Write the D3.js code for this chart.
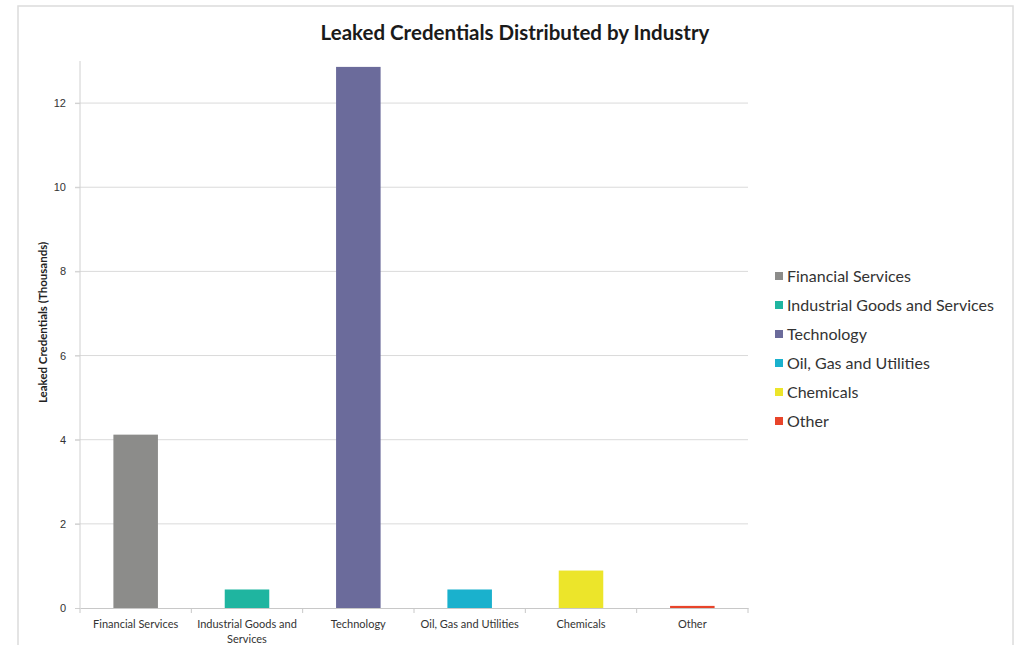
<!DOCTYPE html>
<html>
<head>
<meta charset="utf-8">
<script src="https://cdn.jsdelivr.net/npm/d3@7"></script>
<style>
  body { margin: 0; background: #fff; }
  svg { display: block; font-family: Lato, "Open Sans", sans-serif; }
</style>
</head>
<body>
<svg id="chart" width="1023" height="645"></svg>
<script>
const categories = ["Financial Services", "Industrial Goods and Services", "Technology", "Oil, Gas and Utilities", "Chemicals", "Other"];
const values = [4.12, 0.44, 12.86, 0.44, 0.89, 0.05];
const colors = ["#8c8c8a", "#1fb5a0", "#6b6b9b", "#1ab1cd", "#ece52a", "#e8442a"];
const yTicks = [0, 2, 4, 6, 8, 10, 12];

const svg = d3.select("#chart");

// outer frame
svg.append("rect")
  .attr("x", 18).attr("y", 6)
  .attr("width", 995).attr("height", 660)
  .attr("fill", "none").attr("stroke", "#dcdcdc").attr("stroke-width", 1.5);

const plotLeft = 80, plotRight = 748, plotTop = 61, plotBottom = 608;

const x = d3.scaleBand().domain(categories).range([plotLeft, plotRight]).paddingInner(0.6).paddingOuter(0.3);
const xb = d3.scaleBand().domain(categories).range([plotLeft, plotRight]);
const y = d3.scaleLinear().domain([0, 13]).range([plotBottom, plotTop]);

// grid
svg.append("g")
  .selectAll("line")
  .data(yTicks.filter(d => d > 0))
  .join("line")
  .attr("x1", plotLeft - 5).attr("x2", plotRight)
  .attr("y1", d => y(d)).attr("y2", d => y(d))
  .attr("stroke", "#dadada");

// y axis
const yAxis = svg.append("g")
  .attr("transform", `translate(${plotLeft},0)`)
  .call(d3.axisLeft(y).tickValues(yTicks).tickSize(5).tickPadding(9));
yAxis.select(".domain").attr("stroke", "#d0d0d0").attr("d", `M0,${plotTop}V${plotBottom}`);
yAxis.selectAll(".tick line").attr("stroke", "#d0d0d0");
yAxis.selectAll("text").attr("fill", "#333").style("font-size", "11px");

// bars
svg.append("g")
  .selectAll("rect")
  .data(values)
  .join("rect")
  .attr("x", (d, i) => x(categories[i]))
  .attr("width", x.bandwidth())
  .attr("y", d => y(d))
  .attr("height", d => y(0) - y(d))
  .attr("fill", (d, i) => colors[i]);

// x axis
const xAxis = svg.append("g")
  .attr("transform", `translate(0,${plotBottom})`)
  .call(d3.axisBottom(xb).tickSize(0).tickFormat(""));
xAxis.select(".domain").attr("stroke", "#c8c8c8");
svg.append("g")
  .selectAll("line")
  .data(categories.concat([null]))
  .join("line")
  .attr("x1", (d, i) => plotLeft + i * xb.bandwidth())
  .attr("x2", (d, i) => plotLeft + i * xb.bandwidth())
  .attr("y1", plotBottom).attr("y2", plotBottom + 5)
  .attr("stroke", "#c8c8c8");

// x labels (wrap long one)
const xLabels = svg.append("g");
categories.forEach(c => {
  const lines = c === "Industrial Goods and Services" ? ["Industrial Goods and", "Services"] : [c];
  const t = xLabels.append("text")
    .attr("x", xb(c) + xb.bandwidth() / 2)
    .attr("y", plotBottom + 20)
    .attr("text-anchor", "middle")
    .attr("fill", "#333")
    .style("font-size", "11px");
  lines.forEach((l, i) => t.append("tspan")
    .attr("x", xb(c) + xb.bandwidth() / 2)
    .attr("dy", i === 0 ? 0 : 15)
    .text(l));
});

// y axis title
svg.append("text")
  .attr("transform", `translate(47,${(plotTop + plotBottom) / 2 - 12}) rotate(-90)`)
  .attr("text-anchor", "middle")
  .attr("fill", "#222")
  .style("font-size", "11.5px")
  .style("font-weight", "bold")
  .text("Leaked Credentials (Thousands)");

// title
svg.append("text")
  .attr("x", 515).attr("y", 40)
  .attr("text-anchor", "middle")
  .attr("fill", "#1a1a1a")
  .style("font-size", "20.5px")
  .style("font-weight", "bold")
  .text("Leaked Credentials Distributed by Industry");

// legend
const legend = svg.append("g").attr("transform", "translate(775,277)");
const row = legend.selectAll("g")
  .data(categories)
  .join("g")
  .attr("transform", (d, i) => `translate(0,${i * 29})`);
row.append("rect")
  .attr("x", 0).attr("y", -5)
  .attr("width", 8).attr("height", 8)
  .attr("fill", (d, i) => colors[i]);
row.append("text")
  .attr("x", 12).attr("y", 5)
  .attr("fill", "#333")
  .style("font-size", "16px")
  .text(d => d);
</script>
</body>
</html>
